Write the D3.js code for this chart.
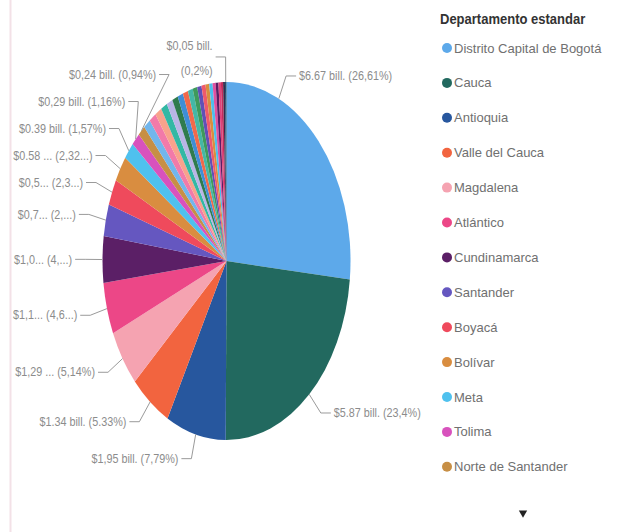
<!DOCTYPE html>
<html>
<head>
<meta charset="utf-8">
<script src="https://cdn.jsdelivr.net/npm/d3@7"></script>
<style>
  html, body { margin: 0; padding: 0; background: #fff; }
  svg { display: block; }
</style>
</head>
<body>
<svg id="chart" width="622" height="532"></svg>
<script>
// ---------------- DATA ----------------
const departments = [
  "Distrito Capital de Bogotá", "Cauca", "Antioquia", "Valle del Cauca", "Magdalena",
  "Atlántico", "Cundinamarca", "Santander", "Boyacá", "Bolívar", "Meta", "Tolima",
  "Norte de Santander", "Cesar", "Córdoba", "Huila", "Nariño", "Sucre", "Caldas",
  "Risaralda", "Quindío", "La Guajira", "Casanare", "Chocó", "Caquetá", "Putumayo",
  "Arauca", "Guaviare", "Amazonas", "San Andrés", "Vichada", "Guainía", "Vaupés"
];
const values = [
  6.67, 5.87, 1.95, 1.34, 1.29, 1.16, 1.05, 0.72, 0.59, 0.58, 0.39, 0.29, 0.24,
  0.23, 0.23, 0.22, 0.21, 0.20, 0.19, 0.18, 0.17, 0.16, 0.15, 0.14, 0.13, 0.12,
  0.11, 0.10, 0.09, 0.08, 0.07, 0.06, 0.05
];
const colors = [
  "#5da9ea", "#22695f", "#27579e", "#f2643f", "#f5a3b1", "#ec4787", "#5b1f66",
  "#6557c0", "#ef4a5c", "#d98d40", "#4fc1ee", "#d852bd", "#c78f45",
  "#72b6ec", "#f27aa9", "#f8a28c", "#32b8a4", "#b8b5e6", "#2f7b4e", "#3f8ed6",
  "#f0694b", "#44b7a6", "#3e9a5c", "#6150b6", "#ef5a6b", "#d98e3e", "#4cbfec",
  "#e0509f", "#5a1e63", "#e0417a", "#c32c5c", "#3a2a4a", "#22506f"
];
const labelTexts = [
  ["$6.67 bill. (26,61%)"], ["$5.87 bill. (23,4%)"], ["$1,95 bill. (7,79%)"],
  ["$1.34 bill. (5.33%)"], ["$1,29 ... (5,14%)"], ["$1,1... (4,6...)"],
  ["$1,0... (4,...)"], ["$0,7... (2,...)"], ["$0,5... (2,3...)"],
  ["$0.58 ... (2,32...)"], ["$0.39 bill. (1,57%)"], ["$0,29 bill. (1,16%)"],
  ["$0,24 bill. (0,94%)"],
  null, null, null, null, null, null, null, null, null, null, null, null, null,
  null, null, null, null, null, null,
  ["$0,05 bill.", "(0,2%)"]
];
const legendTitle = "Departamento estandar";
const legendCount = 13;

// ---------------- LAYOUT ----------------
const svg = d3.select("#chart");
const cx = 226.5, cy = 261, rx = 124, ry = 179;
const kLabel = 1.14, minGap = 27;
const font = "'Liberation Sans', Arial, sans-serif";
const labelSqueeze = 0.9;
const anchorFrac = { 0: 0.26 }; // first slice label anchored early in its arc

// faint page edge
svg.append("line").attr("x1", 10.5).attr("x2", 10.5).attr("y1", 0).attr("y2", 532)
  .attr("stroke", "#f3e1e7").attr("stroke-width", 2);

const data = departments.map((d, i) => ({ name: d, value: values[i], color: colors[i], label: labelTexts[i] }));

const pie = d3.pie().value(d => d.value).sort(null);
const arcs = pie(data);
const arc = d3.arc().innerRadius(0).outerRadius(ry);

const g = svg.append("g").attr("transform", `translate(${cx},${cy}) scale(${rx / ry},1)`);
g.selectAll("path").data(arcs).join("path")
  .attr("d", arc)
  .attr("fill", d => d.data.color);

function pt(a, f) { return [cx + rx * f * Math.sin(a), cy - ry * f * Math.cos(a)]; }
function xOnEllipse(y, side) {
  const t = (y - cy) / (ry * kLabel);
  const s = Math.sqrt(Math.max(0, 1 - t * t));
  return cx + side * rx * kLabel * s;
}

// label placement
const labels = arcs.map((a, i) => {
  if (!a.data.label) return null;
  const f = anchorFrac[i] !== undefined ? anchorFrac[i] : 0.5;
  const ang = a.startAngle + (a.endAngle - a.startAngle) * f;
  const deg = ang * 180 / Math.PI;
  const start = pt(ang, 1.0);
  const elbow = pt(ang, kLabel);
  return { i, ang, deg, start, elbow, lines: a.data.label, side: Math.sin(ang) >= 0 ? 1 : -1 };
}).filter(d => d);

// spread left-side labels (bottom to top)
const leftSpread = labels.filter(l => l.deg > 180 && l.deg < 330).sort((a, b) => b.elbow[1] - a.elbow[1]);
leftSpread.forEach((l, j) => {
  if (j > 0) {
    const prev = leftSpread[j - 1];
    if (l.elbow[1] > prev.elbow[1] - minGap) l.elbow[1] = prev.elbow[1] - minGap;
  }
  l.elbow[0] = xOnEllipse(l.elbow[1], -1);
});

const lg = svg.append("g");
function addLabel(x, y, anchor, s) {
  lg.append("text")
    .attr("transform", `translate(${x},${y}) scale(${labelSqueeze},1)`)
    .attr("dy", "0.35em")
    .attr("text-anchor", anchor)
    .attr("font-family", font).attr("font-size", 12).attr("fill", "#8c8c8c")
    .text(s);
}
labels.forEach(l => {
  const hx = l.elbow[0] + l.side * 10;
  lg.append("polyline")
    .attr("points", [l.start, l.elbow, [hx, l.elbow[1]]].map(p => p.join(",")).join(" "))
    .attr("fill", "none").attr("stroke", "#9a9a9a").attr("stroke-width", 1);
  const tx = hx + l.side * 3;
  const anchor = l.side > 0 ? "start" : "end";
  if (l.lines.length === 1) {
    addLabel(tx, l.elbow[1], anchor, l.lines[0]);
  } else {
    l.lines.forEach((s, j) => addLabel(tx, l.elbow[1] + (j === 0 ? -11 : 14), anchor, s));
  }
});

// ---------------- LEGEND ----------------
const legX = 440, legY0 = 48, legStep = 34.9;
svg.append("text")
  .attr("transform", `translate(${legX},19) scale(0.93,1)`)
  .attr("dy", "0.35em")
  .attr("font-family", font).attr("font-weight", "bold").attr("font-size", 14)
  .attr("fill", "#333").text(legendTitle);

const leg = svg.append("g").selectAll("g").data(data.slice(0, legendCount)).join("g")
  .attr("transform", (d, i) => `translate(${legX},${legY0 + i * legStep})`);
leg.append("circle").attr("cx", 7).attr("cy", 0).attr("r", 5).attr("fill", d => d.color);
leg.append("text").attr("x", 14).attr("y", 0).attr("dy", "0.35em")
  .attr("font-family", font).attr("font-size", 13).attr("fill", "#707070")
  .text(d => d.name);

// scroll arrow
svg.append("path").attr("d", d3.symbol().type(d3.symbolTriangle).size(30)())
  .attr("transform", "translate(523,513) rotate(180)").attr("fill", "#222");
</script>
</body>
</html>
